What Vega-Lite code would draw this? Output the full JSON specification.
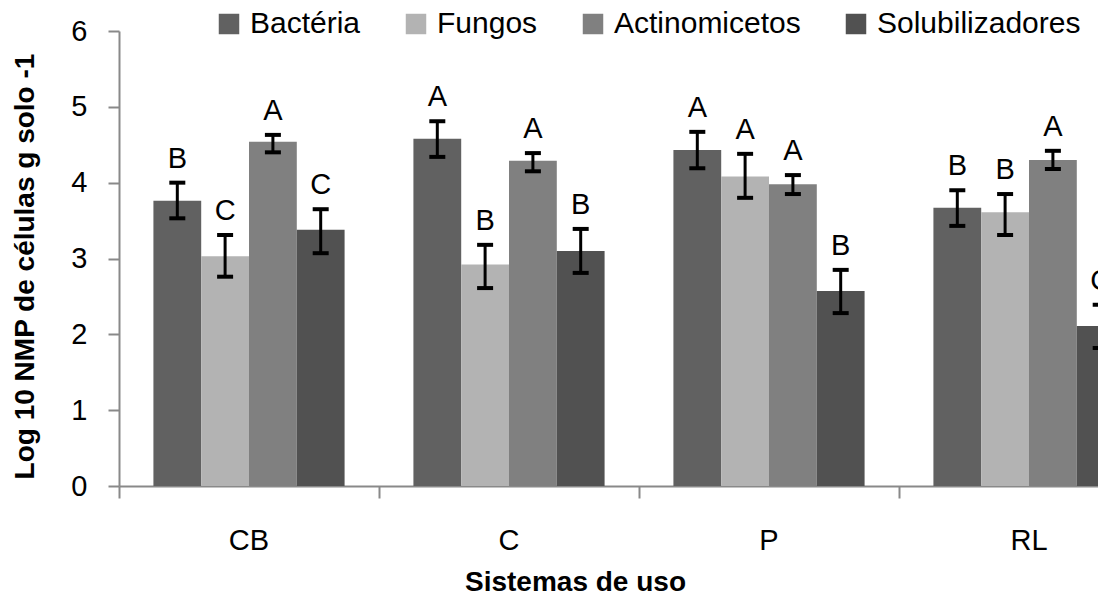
{
  "$schema": "https://vega.github.io/schema/vega-lite/v6.json",
  "width": 979,
  "height": 455,
  "autosize": "none",
  "padding": {"left": 119, "top": 31, "right": 0, "bottom": 117},
  "background": "white",
  "config": {
    "font": "Liberation Sans",
    "view": {"stroke": null},
    "axis": {"grid": false, "labelColor": "black", "titleColor": "black"}
  },
  "data": {
    "values": [
      {"sistema": "CB", "serie": "Bactéria", "media": 3.76, "lo": 3.53, "hi": 4.00, "letra": "B"},
      {"sistema": "CB", "serie": "Fungos", "media": 3.03, "lo": 2.76, "hi": 3.31, "letra": "C"},
      {"sistema": "CB", "serie": "Actinomicetos", "media": 4.54, "lo": 4.40, "hi": 4.63, "letra": "A"},
      {"sistema": "CB", "serie": "Solubilizadores", "media": 3.38, "lo": 3.07, "hi": 3.65, "letra": "C"},
      {"sistema": "C", "serie": "Bactéria", "media": 4.58, "lo": 4.34, "hi": 4.81, "letra": "A"},
      {"sistema": "C", "serie": "Fungos", "media": 2.92, "lo": 2.61, "hi": 3.18, "letra": "B"},
      {"sistema": "C", "serie": "Actinomicetos", "media": 4.29, "lo": 4.15, "hi": 4.39, "letra": "A"},
      {"sistema": "C", "serie": "Solubilizadores", "media": 3.10, "lo": 2.81, "hi": 3.39, "letra": "B"},
      {"sistema": "P", "serie": "Bactéria", "media": 4.43, "lo": 4.19, "hi": 4.67, "letra": "A"},
      {"sistema": "P", "serie": "Fungos", "media": 4.08, "lo": 3.80, "hi": 4.38, "letra": "A"},
      {"sistema": "P", "serie": "Actinomicetos", "media": 3.98, "lo": 3.85, "hi": 4.10, "letra": "A"},
      {"sistema": "P", "serie": "Solubilizadores", "media": 2.57, "lo": 2.28, "hi": 2.85, "letra": "B"},
      {"sistema": "RL", "serie": "Bactéria", "media": 3.67, "lo": 3.43, "hi": 3.90, "letra": "B"},
      {"sistema": "RL", "serie": "Fungos", "media": 3.61, "lo": 3.31, "hi": 3.85, "letra": "B"},
      {"sistema": "RL", "serie": "Actinomicetos", "media": 4.30, "lo": 4.18, "hi": 4.42, "letra": "A"},
      {"sistema": "RL", "serie": "Solubilizadores", "media": 2.11, "lo": 1.82, "hi": 2.39, "letra": "C"}
    ]
  },
  "encoding": {
    "x": {
      "field": "sistema", "type": "nominal", "sort": ["CB", "C", "P", "RL"],
      "scale": {"range": [0, 1040], "paddingInner": 0, "paddingOuter": 0},
      "axis": null
    },
    "xOffset": {
      "field": "serie", "type": "nominal",
      "sort": ["Bactéria", "Fungos", "Actinomicetos", "Solubilizadores"],
      "scale": {"paddingInner": 0, "paddingOuter": 0.72}
    }
  },
  "layer": [
    {
      "mark": {"type": "bar", "clip": true},
      "encoding": {
        "x": {
          "field": "sistema", "type": "nominal", "sort": ["CB", "C", "P", "RL"],
          "scale": {"range": [0, 1040], "paddingInner": 0, "paddingOuter": 0},
          "axis": {
            "orient": "bottom", "bandPosition": 0, "labels": false, "title": null,
            "tickSize": 12, "tickColor": "#898989", "tickWidth": 2,
            "domainColor": "#898989", "domainWidth": 2
          }
        },
        "y": {
          "field": "media", "type": "quantitative",
          "scale": {"domain": [0, 6], "nice": false},
          "axis": {
            "values": [0, 1, 2, 3, 4, 5, 6], "format": "d",
            "title": "Log 10 NMP de células g solo -1",
            "titleFontSize": 28, "titleFontWeight": "bold",
            "titleX": -86, "titleY": 235, "titleAngle": -90,
            "titleAlign": "center", "titleBaseline": "alphabetic",
            "labelFontSize": 29, "labelPadding": 21,
            "tickSize": 11, "tickColor": "#898989", "tickWidth": 2,
            "domainColor": "#898989", "domainWidth": 2
          }
        },
        "color": {
          "field": "serie", "type": "nominal",
          "sort": ["Bactéria", "Fungos", "Actinomicetos", "Solubilizadores"],
          "scale": {
            "domain": ["Bactéria", "Fungos", "Actinomicetos", "Solubilizadores"],
            "range": ["#616161", "#b3b3b3", "#808080", "#515151"]
          },
          "legend": {
            "orient": "none", "legendX": 95, "legendY": -22,
            "direction": "horizontal", "title": null, "padding": 0,
            "symbolType": "square", "symbolSize": 420, "symbolStrokeWidth": 0,
            "symbolOpacity": 1,
            "labelFontSize": 30, "labelOffset": 6, "columnPadding": 40,
            "labelColor": "black", "labelLimit": 400
          }
        }
      }
    },
    {
      "mark": {"type": "rule", "color": "black", "strokeWidth": 3, "clip": true},
      "encoding": {
        "y": {"field": "lo", "type": "quantitative"},
        "y2": {"field": "hi"}
      }
    },
    {
      "mark": {"type": "tick", "color": "black", "size": 16, "thickness": 4, "clip": true, "opacity": 1},
      "encoding": {
        "y": {"field": "lo", "type": "quantitative"}
      }
    },
    {
      "mark": {"type": "tick", "color": "black", "size": 16, "thickness": 4, "clip": true, "opacity": 1},
      "encoding": {
        "y": {"field": "hi", "type": "quantitative"}
      }
    },
    {
      "mark": {"type": "text", "fontSize": 29, "baseline": "middle", "dy": -24, "color": "black", "clip": true},
      "encoding": {
        "x": {
          "field": "sistema", "type": "nominal", "sort": ["CB", "C", "P", "RL"],
          "scale": {"range": [0, 1040], "paddingInner": 0, "paddingOuter": 0},
          "axis": {
            "orient": "bottom", "ticks": false, "tickSize": 0, "domain": false,
            "labelFontSize": 29, "labelPadding": 40, "labelAngle": 0,
            "title": "Sistemas de uso", "titleFontSize": 28, "titleFontWeight": "bold",
            "titleX": 456, "titleY": 104, "titleBaseline": "alphabetic", "titleAlign": "center"
          }
        },
        "y": {"field": "hi", "type": "quantitative"},
        "text": {"field": "letra"}
      }
    }
  ],
  "resolve": {"axis": {"x": "independent"}}
}
